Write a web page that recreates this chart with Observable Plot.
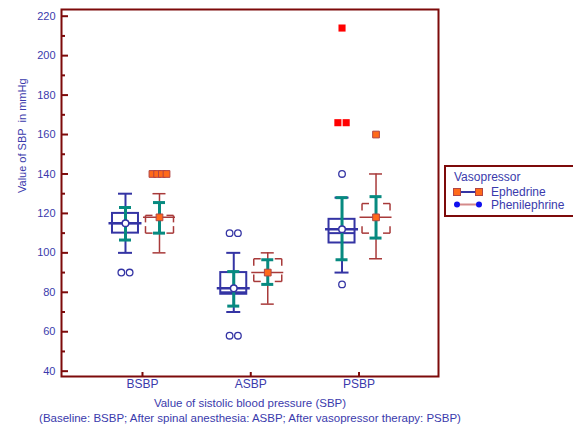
<!DOCTYPE html>
<html><head><meta charset="utf-8">
<script src="https://cdn.jsdelivr.net/npm/d3@7"></script>
<script src="https://cdn.jsdelivr.net/npm/@observablehq/plot@0.6"></script>
<style>
body{margin:0;background:#fff;font-family:Arial,"Liberation Sans",sans-serif;}
#wrap{position:relative;width:573px;height:425px;}
#legend{position:absolute;left:0;top:0;}
</style></head>
<body><div id="wrap"></div>
<script>
// ---- data ----
const categories = ["BSBP", "ASBP", "PSBP"];
const groups = ["Ephedrine", "Phenilephrine"];
// Ephedrine (blue box)
const ephWhiskerLow  = [100, 70, 90];
const ephWhiskerHigh = [130, 100, 128];
const ephQ1          = [110, 79, 105];
const ephQ3          = [120, 90, 117];
const ephMedian      = [115, 80, 110];
const ephMean        = [115, 82, 112];
const ephErrLow      = [106.5, 73, 96.5];
const ephErrHigh     = [123, 90.5, 128];
const ephOutlierCat   = ["BSBP", "BSBP", "ASBP", "ASBP", "ASBP", "ASBP", "PSBP", "PSBP"];
const ephOutlierValue = [90, 90, 110, 110, 58, 58, 140, 84];
const ephFarCat       = ["PSBP", "PSBP", "PSBP"];
const ephFarValue     = [214, 166, 166];
// Phenilephrine (red box)
const phenWhiskerLow  = [100, 74, 97];
const phenWhiskerHigh = [130, 100, 140];
const phenQ1          = [110, 85.5, 110];
const phenQ3          = [119, 97, 125];
const phenMean        = [118, 90, 118];
const phenErrLow      = [110, 84, 107.5];
const phenErrHigh     = [125.5, 96.5, 128.5];
const phenOutlierCat   = ["BSBP", "BSBP", "BSBP", "BSBP", "PSBP"];
const phenOutlierValue = [140, 140, 140, 140, 160];
const yTicks = [40, 60, 80, 100, 120, 140, 160, 180, 200, 220];
const yMinor = [50, 70, 90, 110, 130, 150, 170, 190, 210];

// ---- layout ----
const W = 573, H = 425, ML = 61, MR = 135, MT = 9, MB = 49;
const xDomain = [-0.748, 2.734], yDomain = [37.3, 223.4];
const XSTEP = (W - ML - MR) / (xDomain[1] - xDomain[0]);
const YSTEP = (H - MT - MB) / (yDomain[1] - yDomain[0]);
const ux = p => p / XSTEP, uy = p => p / YSTEP;
const NAVY = "#3434a4", TEAL = "#078a80", MAROON = "#7d0a0a", RED = "#a83a3a";
const TXT = "#3a3aac";

function rows(off, lo, hi, q1, q3, med, mean, eLo, eHi) {
  return categories.map((c, i) => ({
    xc: i + ux(off), lo: lo[i], hi: hi[i], q1: q1[i], q3: q3[i],
    med: med ? med[i] : null, mean: mean[i], eLo: eLo[i], eHi: eHi[i]
  }));
}
const EOFF = -17, POFF = 17;
const eph = rows(EOFF, ephWhiskerLow, ephWhiskerHigh, ephQ1, ephQ3, ephMedian, ephMean, ephErrLow, ephErrHigh);
const phen = rows(POFF, phenWhiskerLow, phenWhiskerHigh, phenQ1, phenQ3, null, phenMean, phenErrLow, phenErrHigh);

function spread(cats, vals, off, spacing) {
  const out = [];
  const key = (c, v) => c + "|" + v;
  const counts = d3.rollup(cats.map((c, i) => key(c, vals[i])), v => v.length, d => d);
  const seen = new Map();
  cats.forEach((c, i) => {
    const k = key(c, vals[i]); const n = counts.get(k); const j = seen.get(k) || 0; seen.set(k, j + 1);
    out.push({x: categories.indexOf(c) + ux(off + (j - (n - 1) / 2) * spacing), y: vals[i]});
  });
  return out;
}
const ephOut = spread(ephOutlierCat, ephOutlierValue, EOFF, 8.3);
const ephFar = spread(ephFarCat, ephFarValue, EOFF, 8.3);
const phenOut = spread(phenOutlierCat, phenOutlierValue, POFF, 4.7);

// bracket-corner box for Phenilephrine
const AX = ux(7), AY = uy(7), PHW = ux(14);
const corners = phen.flatMap(d => {
  const l = d.xc - PHW, r = d.xc + PHW;
  return [
    {x1: l, y1: d.q3, x2: l + AX, y2: d.q3}, {x1: l, y1: d.q3, x2: l, y2: d.q3 - AY},
    {x1: r, y1: d.q3, x2: r - AX, y2: d.q3}, {x1: r, y1: d.q3, x2: r, y2: d.q3 - AY},
    {x1: l, y1: d.q1, x2: l + AX, y2: d.q1}, {x1: l, y1: d.q1, x2: l, y2: d.q1 + AY},
    {x1: r, y1: d.q1, x2: r - AX, y2: d.q1}, {x1: r, y1: d.q1, x2: r, y2: d.q1 + AY}
  ];
});

const xMin = xDomain[0];
const chart = Plot.plot({
  width: W, height: H, marginLeft: ML, marginRight: MR, marginTop: MT, marginBottom: MB,
  x: {domain: xDomain, axis: null},
  y: {domain: yDomain, axis: null},
  style: {color: TXT, fontFamily: 'Arial, "Liberation Sans", sans-serif', background: "#fff"},
  marks: [
    // axes labels
    Plot.axisY({ticks: yTicks, tickSize: 0, tickPadding: 6, fontSize: 11, label: null}),
    Plot.axisX({ticks: [0, 1, 2], tickFormat: i => categories[i], tickSize: 0, tickPadding: 3, fontSize: 12, label: null}),
    // inward ticks
    Plot.ruleY(yTicks, {y: d => d, x1: xMin, x2: xMin + ux(7), stroke: MAROON, strokeWidth: 2}),
    Plot.ruleY(yMinor, {y: d => d, x1: xMin, x2: xMin + ux(4), stroke: MAROON, strokeWidth: 2}),
    Plot.ruleX([0, 1, 2], {x: d => d, y1: yDomain[0], y2: yDomain[0] + uy(4), stroke: MAROON, strokeWidth: 2}),
    // Phenilephrine group
    Plot.ruleX(phen, {x: "xc", y1: "lo", y2: "hi", stroke: RED, strokeWidth: 1.5}),
    Plot.ruleY(phen, {y: "lo", x1: d => d.xc - ux(6.5), x2: d => d.xc + ux(6.5), stroke: RED, strokeWidth: 1.5}),
    Plot.ruleY(phen, {y: "hi", x1: d => d.xc - ux(6.5), x2: d => d.xc + ux(6.5), stroke: RED, strokeWidth: 1.5}),
    Plot.link(corners, {x1: "x1", y1: "y1", x2: "x2", y2: "y2", stroke: RED, strokeWidth: 1.5}),
    Plot.ruleX(phen, {x: "xc", y1: "eLo", y2: "eHi", stroke: TEAL, strokeWidth: 3}),
    Plot.ruleY(phen, {y: "eLo", x1: d => d.xc - ux(6), x2: d => d.xc + ux(6), stroke: TEAL, strokeWidth: 3}),
    Plot.ruleY(phen, {y: "eHi", x1: d => d.xc - ux(6), x2: d => d.xc + ux(6), stroke: TEAL, strokeWidth: 3}),
    Plot.ruleY(phen, {y: "mean", x1: d => d.xc - ux(16), x2: d => d.xc + ux(16), stroke: RED, strokeWidth: 1.5}),
    Plot.dot(phen, {x: "xc", y: "mean", symbol: "square", r: 3.8, fill: "#ff6a1a", stroke: "#b04545", strokeWidth: 1}),
    // Ephedrine group
    Plot.ruleX(eph, {x: "xc", y1: "lo", y2: "hi", stroke: NAVY, strokeWidth: 2}),
    Plot.ruleY(eph, {y: "lo", x1: d => d.xc - ux(7), x2: d => d.xc + ux(7), stroke: NAVY, strokeWidth: 2}),
    Plot.ruleY(eph, {y: "hi", x1: d => d.xc - ux(7), x2: d => d.xc + ux(7), stroke: NAVY, strokeWidth: 2}),
    Plot.rect(eph, {x1: d => d.xc - ux(13), x2: d => d.xc + ux(13), y1: "q1", y2: "q3", fill: "none", stroke: NAVY, strokeWidth: 2}),
    Plot.ruleY(eph, {y: "med", x1: d => d.xc - ux(13), x2: d => d.xc + ux(13), stroke: NAVY, strokeWidth: 2}),
    Plot.ruleX(eph, {x: "xc", y1: "eLo", y2: "eHi", stroke: TEAL, strokeWidth: 3}),
    Plot.ruleY(eph, {y: "eLo", x1: d => d.xc - ux(6), x2: d => d.xc + ux(6), stroke: TEAL, strokeWidth: 3}),
    Plot.ruleY(eph, {y: "eHi", x1: d => d.xc - ux(6), x2: d => d.xc + ux(6), stroke: TEAL, strokeWidth: 3}),
    Plot.ruleY(eph, {y: "mean", x1: d => d.xc - ux(16.5), x2: d => d.xc + ux(16.5), stroke: NAVY, strokeWidth: 2.5}),
    Plot.dot(eph, {x: "xc", y: "mean", r: 3.3, fill: "#fff", stroke: NAVY, strokeWidth: 1.5}),
    // outliers
    Plot.dot(ephOut, {x: "x", y: "y", r: 3.3, fill: "#fff", stroke: NAVY, strokeWidth: 1.3}),
    Plot.dot(ephFar, {x: "x", y: "y", symbol: "square", r: 4, fill: "#ff0000", stroke: "none"}),
    Plot.dot(phenOut, {x: "x", y: "y", symbol: "square", r: 3.8, fill: "#ff6a1a", stroke: "#b04545", strokeWidth: 1}),
    // frame
    Plot.frame({stroke: MAROON, strokeWidth: 2}),
    // titles
    Plot.text(["Value of SBP  in mmHg"], {frameAnchor: "left", rotate: -90, dx: -39, fontSize: 11, fill: TXT}),
    Plot.text(["Value of sistolic blood pressure (SBP)"], {frameAnchor: "bottom", dy: 27, lineAnchor: "middle", fontSize: 11.5, fill: TXT}),
    Plot.text(["(Baseline: BSBP; After spinal anesthesia: ASBP; After vasopressor therapy: PSBP)"], {frameAnchor: "bottom", dy: 42, lineAnchor: "middle", fontSize: 11.5, fill: TXT})
  ]
});
document.getElementById("wrap").appendChild(chart);

// legend (overlay)
const lg = d3.select("#wrap").append("svg").attr("id", "legend").attr("width", W).attr("height", H)
  .style("pointer-events", "none").style("font-family", 'Arial, "Liberation Sans", sans-serif');
lg.append("path").attr("d", "M575,166 H445 V216 H575").attr("fill", "#fff").attr("stroke", MAROON).attr("stroke-width", 2);
lg.append("text").attr("x", 454).attr("y", 181).attr("font-size", 12).attr("fill", TXT).text("Vasopressor");
const legendRows = [
  {label: groups[0], y: 192, line: NAVY, sym: "sq"},
  {label: groups[1], y: 204.5, line: "#d48a8a", sym: "dot"}
];
legendRows.forEach(r => {
  lg.append("line").attr("x1", 457).attr("x2", 479).attr("y1", r.y).attr("y2", r.y).attr("stroke", r.line).attr("stroke-width", 2);
  [457, 479].forEach(cx => {
    if (r.sym === "sq") lg.append("rect").attr("x", cx - 3.5).attr("y", r.y - 3.5).attr("width", 7).attr("height", 7).attr("fill", "#ff6a1a").attr("stroke", "#b04545");
    else lg.append("circle").attr("cx", cx).attr("cy", r.y).attr("r", 3).attr("fill", "#1010ee");
  });
  lg.append("text").attr("x", 491).attr("y", r.y + 4.2).attr("font-size", 12).attr("fill", TXT).text(r.label);
});
</script></body></html>
